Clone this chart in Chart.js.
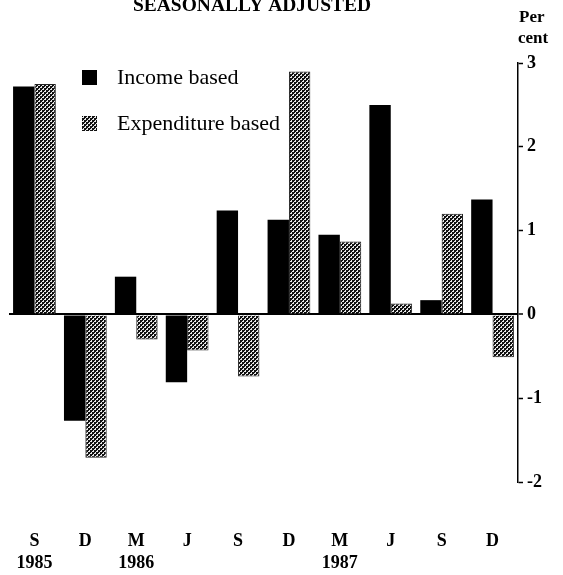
<!DOCTYPE html>
<html>
<head>
<meta charset="utf-8">
<script src="https://cdn.jsdelivr.net/npm/chart.js@4/dist/chart.umd.min.js"></script>
<style>
html,body{margin:0;padding:0;background:#fff;}
#wrap{width:563px;height:575px;position:relative;}
</style>
</head>
<body>
<div id="wrap"><canvas id="c" width="563" height="575"></canvas></div>
<script>
const titleText = 'SEASONALLY ADJUSTED';
const unitLines = ['Per', 'cent'];
const months = ['S','D','M','J','S','D','M','J','S','D'];
const years = ['1985','','1986','','','','1987','','',''];
const incomeBased = [2.72,-1.27,0.45,-0.81,1.24,1.13,0.95,2.50,0.17,1.37];
const expenditureBased = [2.75,-1.71,-0.30,-0.43,-0.74,2.90,0.87,0.13,1.20,-0.51];
const yTicks = [3,2,1,0,-1,-2];
const seriesNames = ['Income based','Expenditure based'];

const SERIF = '"Liberation Serif", "DejaVu Serif", serif';

function makePattern(){
  const p = document.createElement('canvas');
  p.width = 4; p.height = 4;
  const g = p.getContext('2d');
  g.fillStyle = '#e8e8e8';
  g.fillRect(0,0,4,4);
  g.fillStyle = '#111';
  g.fillRect(0,0,2,2);
  g.fillRect(2,2,2,2);
  g.fillRect(2,0,1,1);
  g.fillRect(0,2,1,1);
  return g.createPattern(p,'repeat');
}

const ctx0 = document.getElementById('c').getContext('2d');
const pattern = makePattern();

const labels = months.map((m,i)=>[m, years[i]]);

const overlay = {
  id:'overlay',
  afterDraw(chart){
    const ctx = chart.ctx;
    ctx.save();
    ctx.fillStyle = '#000';
    ctx.font = 'bold 19.5px ' + SERIF;
    ctx.textAlign = 'center';
    ctx.textBaseline = 'alphabetic';
    ctx.fillText(titleText, 252, 11);
    ctx.font = 'bold 17px ' + SERIF;
    ctx.textAlign = 'left';
    ctx.textBaseline = 'middle';
    ctx.fillText(unitLines[0], 519, 18);
    ctx.fillText(unitLines[1], 518, 39);
    const items = chart.data.datasets;
    const rows = [77, 123];
    items.forEach((ds,i)=>{
      const y = rows[i];
      ctx.fillStyle = ds.backgroundColor;
      ctx.fillRect(82, y-7, 15, 15);
      ctx.fillStyle = '#000';
      ctx.font = '22px ' + SERIF;
      ctx.textAlign = 'left';
      ctx.textBaseline = 'middle';
      ctx.fillText(ds.label, 117, y+1);
    });
    ctx.restore();
  }
};

new Chart(ctx0, {
  type:'bar',
  data:{
    labels: labels,
    datasets:[
      {label: seriesNames[0], data: incomeBased, backgroundColor:'#000', borderColor:'#000', borderWidth:0},
      {label: seriesNames[1], data: expenditureBased, backgroundColor: pattern, borderColor:'#222', borderWidth:1}
    ]
  },
  options:{
    responsive:false,
    animation:false,
    devicePixelRatio:1,
    layout:{padding:{left:9, top:63, right:0, bottom:0}},
    plugins:{legend:{display:false}, tooltip:{enabled:false}, title:{display:false}},
    datasets:{bar:{categoryPercentage:0.84, barPercentage:1.0}},
    scales:{
      x:{
        grid:{display:false, drawTicks:false},
        border:{display:false},
        ticks:{
          color:'#000', padding:48, maxRotation:0, autoSkip:false,
          font:{family:SERIF, size:18, weight:'bold', lineHeight:1.25}
        },
        afterFit(s){ s.height = 93; s.paddingLeft = 0; s.paddingRight = 0; }
      },
      y:{
        position:'right',
        min:-2, max:3,
        afterBuildTicks(s){ s.ticks = yTicks.map(v=>({value:v})); },
        grid:{
          drawOnChartArea:true, drawTicks:true, tickLength:5,
          color:(c)=> (c.tick && c.tick.value===0) ? '#000' : 'rgba(0,0,0,0)',
          lineWidth:(c)=> (c.tick && c.tick.value===0) ? 2 : 1,
          tickColor:'#000', tickWidth:1.5
        },
        border:{display:true, color:'#000', width:1.5},
        ticks:{color:'#000', padding:4, font:{family:SERIF, size:18, weight:'bold'}},
        afterFit(s){ s.width = 45; s.paddingTop = 0; s.paddingBottom = 0; }
      }
    }
  },
  plugins:[overlay]
});
</script>
</body>
</html>
